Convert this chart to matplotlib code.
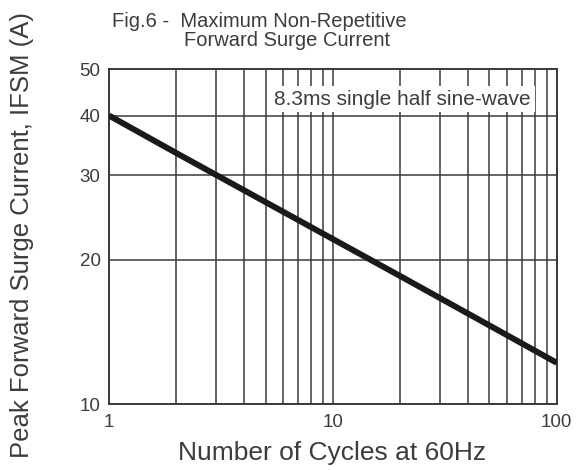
import matplotlib
matplotlib.use("Agg")
import matplotlib.pyplot as plt
from matplotlib.ticker import FixedLocator, NullFormatter, FixedFormatter

plt.rcParams["font.family"] = ["Liberation Sans", "DejaVu Sans"]

# Surge current curve
cycles = [1, 2, 5, 10, 20, 50, 100]
surge_current = [40.0, 33.4, 26.4, 22.1, 18.5, 14.6, 12.2]

x_major = [1, 10, 100]
x_minor = [2, 3, 4, 5, 6, 7, 8, 9, 20, 30, 40, 50, 60, 70, 80, 90]
y_ticks = [10, 20, 30, 40, 50]

text_col = "#3c3c3c"
grid_col = "#3a3a3a"


def main():
    fig = plt.figure(figsize=(5.83, 4.70), dpi=100)
    ax = fig.add_axes([0.187, 0.140, 0.768, 0.713])

    ax.set_xscale("log")
    ax.set_yscale("log")
    ax.set_xlim(1, 100)
    ax.set_ylim(10, 50)

    ax.plot(cycles, surge_current, color="#1a1a1a", lw=4.3,
            solid_capstyle="butt", zorder=4)

    ax.xaxis.set_major_locator(FixedLocator(x_major))
    ax.xaxis.set_major_formatter(FixedFormatter([str(v) for v in x_major]))
    ax.xaxis.set_minor_locator(FixedLocator(x_minor))
    ax.xaxis.set_minor_formatter(NullFormatter())
    ax.yaxis.set_major_locator(FixedLocator(y_ticks))
    ax.yaxis.set_major_formatter(FixedFormatter([str(v) for v in y_ticks]))
    ax.yaxis.set_minor_locator(FixedLocator([]))

    ax.grid(True, which="both", color=grid_col, lw=1.1)
    ax.set_axisbelow(True)
    for sp in ax.spines.values():
        sp.set_color(grid_col)
        sp.set_linewidth(1.4)

    ax.tick_params(which="both", length=0, labelsize=13.5, colors=text_col)
    ax.tick_params(axis="x", pad=7)
    ax.tick_params(axis="y", pad=6)

    ax.text(20.5, 43.3, "8.3ms single half sine-wave", ha="center",
            va="center", fontsize=15, color=text_col, zorder=3,
            bbox=dict(facecolor="white", edgecolor="none", pad=2.5))

    fig.text(332 / 583, 1 - 453 / 470, "Number of Cycles at 60Hz",
             ha="center", va="center", fontsize=19, color=text_col)
    fig.text(22 / 583, 1 - 235 / 470, "Peak Forward Surge Current, IFSM (A)",
             ha="center", va="center", rotation=90, fontsize=18.5,
             color=text_col)

    fig.text(112 / 583, 1 - 27 / 470, "Fig.6 -  Maximum Non-Repetitive",
             ha="left", va="baseline", fontsize=14.5, color=text_col)
    fig.text(184 / 583, 1 - 46 / 470, "Forward Surge Current",
             ha="left", va="baseline", fontsize=14.5, color=text_col)

    fig.savefig("out.png", dpi=100, facecolor="white")


if __name__ == "__main__":
    main()
